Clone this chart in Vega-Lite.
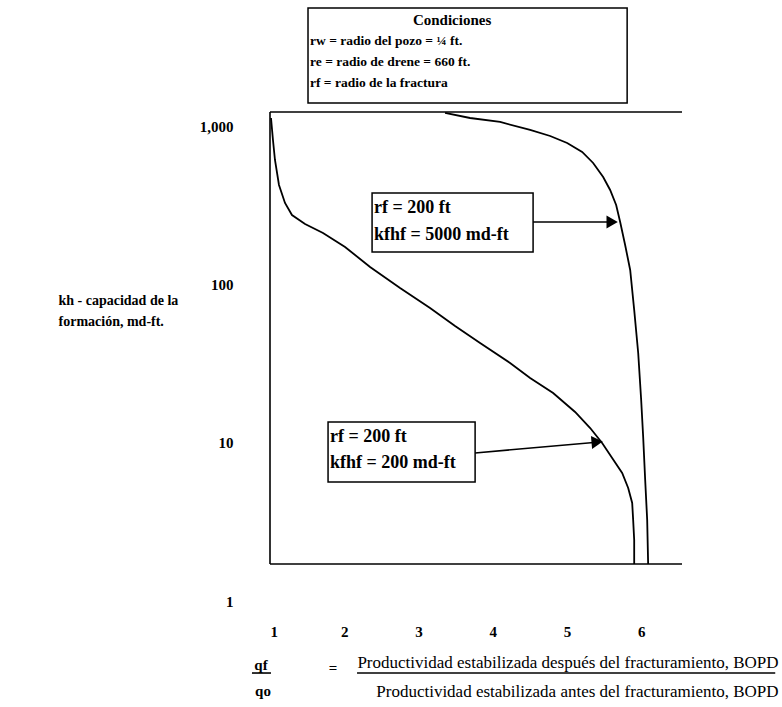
{
  "$schema": "https://vega.github.io/schema/vega-lite/v6.json",
  "autosize": "none",
  "width": 412,
  "height": 489,
  "padding": {"left": 270, "top": 112, "right": 100, "bottom": 106},
  "background": "white",
  "config": {"view": {"stroke": null}, "font": "Liberation Serif"},
  "datasets": {
    "curves": [
      {"serie": "kfhf200", "i": 1, "x": 1.0135, "y": 1140},
      {"serie": "kfhf200", "i": 2, "x": 1.040, "y": 827.6},
      {"serie": "kfhf200", "i": 3, "x": 1.067, "y": 618.2},
      {"serie": "kfhf200", "i": 4, "x": 1.121, "y": 429.6},
      {"serie": "kfhf200", "i": 5, "x": 1.202, "y": 330.4},
      {"serie": "kfhf200", "i": 6, "x": 1.296, "y": 277.3},
      {"serie": "kfhf200", "i": 7, "x": 1.472, "y": 243.3},
      {"serie": "kfhf200", "i": 8, "x": 1.714, "y": 213.4},
      {"serie": "kfhf200", "i": 9, "x": 2.011, "y": 174.0},
      {"serie": "kfhf200", "i": 10, "x": 2.348, "y": 130.0},
      {"serie": "kfhf200", "i": 11, "x": 2.752, "y": 95.7},
      {"serie": "kfhf200", "i": 12, "x": 3.156, "y": 71.5},
      {"serie": "kfhf200", "i": 13, "x": 3.493, "y": 55.0},
      {"serie": "kfhf200", "i": 14, "x": 3.830, "y": 42.96},
      {"serie": "kfhf200", "i": 15, "x": 4.234, "y": 32.1},
      {"serie": "kfhf200", "i": 16, "x": 4.504, "y": 25.8},
      {"serie": "kfhf200", "i": 17, "x": 4.814, "y": 20.7},
      {"serie": "kfhf200", "i": 18, "x": 5.110, "y": 15.71},
      {"serie": "kfhf200", "i": 19, "x": 5.313, "y": 12.44},
      {"serie": "kfhf200", "i": 20, "x": 5.474, "y": 10.0},
      {"serie": "kfhf200", "i": 21, "x": 5.609, "y": 8.04},
      {"serie": "kfhf200", "i": 22, "x": 5.744, "y": 6.46},
      {"serie": "kfhf200", "i": 23, "x": 5.825, "y": 5.19},
      {"serie": "kfhf200", "i": 24, "x": 5.879, "y": 4.17},
      {"serie": "kfhf200", "i": 25, "x": 5.892, "y": 3.26},
      {"serie": "kfhf200", "i": 26, "x": 5.906, "y": 2.43},
      {"serie": "kfhf200", "i": 27, "x": 5.906, "y": 1.715},
      {"serie": "kfhf5000", "i": 1, "x": 3.358, "y": 1227},
      {"serie": "kfhf5000", "i": 2, "x": 3.695, "y": 1140},
      {"serie": "kfhf5000", "i": 3, "x": 4.100, "y": 1075.6},
      {"serie": "kfhf5000", "i": 4, "x": 4.504, "y": 957.3},
      {"serie": "kfhf5000", "i": 5, "x": 4.774, "y": 877.0},
      {"serie": "kfhf5000", "i": 6, "x": 5.003, "y": 792.1},
      {"serie": "kfhf5000", "i": 7, "x": 5.205, "y": 694.7},
      {"serie": "kfhf5000", "i": 8, "x": 5.353, "y": 591.9},
      {"serie": "kfhf5000", "i": 9, "x": 5.488, "y": 482.6},
      {"serie": "kfhf5000", "i": 10, "x": 5.582, "y": 399.3},
      {"serie": "kfhf5000", "i": 11, "x": 5.663, "y": 320.9},
      {"serie": "kfhf5000", "i": 12, "x": 5.717, "y": 250.5},
      {"serie": "kfhf5000", "i": 13, "x": 5.784, "y": 179.2},
      {"serie": "kfhf5000", "i": 14, "x": 5.852, "y": 124.4},
      {"serie": "kfhf5000", "i": 15, "x": 5.906, "y": 69.5},
      {"serie": "kfhf5000", "i": 16, "x": 5.960, "y": 37.1},
      {"serie": "kfhf5000", "i": 17, "x": 6.000, "y": 18.72},
      {"serie": "kfhf5000", "i": 18, "x": 6.027, "y": 10.91},
      {"serie": "kfhf5000", "i": 19, "x": 6.054, "y": 5.83},
      {"serie": "kfhf5000", "i": 20, "x": 6.081, "y": 3.26},
      {"serie": "kfhf5000", "i": 21, "x": 6.094, "y": 1.715}
    ],
    "segments": [
      {"part": "frame top", "x": 1, "x2": 6.55, "y": 1244, "y2": 1244},
      {"part": "frame left", "x": 1, "x2": 1, "y": 1.715, "y2": 1244},
      {"part": "frame bottom", "x": 1, "x2": 6.55, "y": 1.715, "y2": 1.715},
      {"part": "arrow 5000", "x": 4.544, "x2": 5.62, "y": 250.5, "y2": 250.5},
      {"part": "arrow 200", "x": 3.763, "x2": 5.40, "y": 8.65, "y2": 10.1},
      {"part": "qf bar", "x": 0.757, "x2": 1.013, "y": 0.3501, "y2": 0.3501},
      {"part": "fraction bar", "x": 2.1725, "x2": 7.806, "y": 0.3501, "y2": 0.3501}
    ],
    "heads": [
      {"arrow": "5000", "x": 5.609, "y": 250.5, "angle": 0},
      {"arrow": "200", "x": 5.407, "y": 10.15, "angle": -5}
    ],
    "boxes": [
      {"box": "condiciones", "x": 1.512, "x2": 5.811, "y": 5665, "y2": 1418.6},
      {"box": "5000", "x": 2.375, "x2": 4.544, "y": 382.2, "y2": 161.8},
      {"box": "200", "x": 1.782, "x2": 3.763, "y": 13.58, "y2": 5.665}
    ],
    "condText": [
      {"x": 1.539, "y": 3502, "t": "rw = radio del pozo = ¼ ft."},
      {"x": 1.539, "y": 2579, "t": "re = radio de drene = 660 ft."},
      {"x": 1.539, "y": 1899, "t": "rf = radio de la fractura"}
    ],
    "boxText": [
      {"x": 2.402, "y": 307.2, "t": "rf = 200 ft"},
      {"x": 2.402, "y": 207.3, "t": "kfhf = 5000 md-ft"},
      {"x": 1.809, "y": 10.91, "t": "rf = 200 ft"},
      {"x": 1.809, "y": 7.47, "t": "kfhf = 200 md-ft"}
    ],
    "centerText": [
      {"x": 3.453, "y": 4755, "t": "Condiciones"},
      {"x": 0.879, "y": 0.3935, "t": "qf"},
      {"x": 0.906, "y": 0.2694, "t": "qo"},
      {"x": 1.849, "y": 0.3766, "t": "="}
    ]
  },
  "encoding": {
    "x": {
      "field": "x", "type": "quantitative",
      "scale": {"domain": [1, 6.55], "nice": false, "zero": false},
      "axis": {
        "values": [1, 2, 3, 4, 5, 6], "format": "d",
        "domain": false, "ticks": false, "grid": false,
        "labelPadding": 23, "labelFontSize": 15, "labelFontWeight": "bold", "labelColor": "black",
        "title": ["Productividad estabilizada después del fracturamiento, BOPD", "Productividad estabilizada antes del fracturamiento, BOPD"],
        "titleAngle": 0, "titleAlign": "right", "titleBaseline": "top",
        "titleX": 508, "titleY": 53, "titleLineHeight": 29,
        "titleFontSize": 17, "titleFontWeight": "normal", "titleColor": "black"
      }
    },
    "y": {
      "field": "y", "type": "quantitative",
      "scale": {"type": "log", "domain": [1, 1244], "nice": false},
      "axis": {
        "values": [1, 10, 100, 1000], "format": ",.0f",
        "domain": false, "ticks": false, "grid": false,
        "labelPadding": 37, "labelFontSize": 15, "labelFontWeight": "bold", "labelColor": "black",
        "title": ["kh - capacidad de la", "formación, md-ft."],
        "titleAngle": 0, "titleAlign": "left", "titleBaseline": "top",
        "titleX": -212, "titleY": 181, "titleLineHeight": 21,
        "titleFontSize": 14, "titleFontWeight": "bold", "titleColor": "black"
      }
    }
  },
  "layer": [
    {
      "data": {"name": "boxes"},
      "mark": {"type": "rect", "fill": "white", "stroke": "black", "strokeWidth": 1.5},
      "encoding": {"x2": {"field": "x2"}, "y2": {"field": "y2"}}
    },
    {
      "data": {"name": "curves"},
      "mark": {"type": "line", "color": "black", "strokeWidth": 1.8},
      "encoding": {"detail": {"field": "serie"}, "order": {"field": "i", "type": "quantitative"}}
    },
    {
      "data": {"name": "segments"},
      "mark": {"type": "rule", "color": "black", "strokeWidth": 1.6},
      "encoding": {"x2": {"field": "x2"}, "y2": {"field": "y2"}}
    },
    {
      "data": {"name": "heads"},
      "mark": {"type": "point", "shape": "triangle-right", "filled": true, "color": "black", "size": 170, "opacity": 1},
      "encoding": {"angle": {"field": "angle", "type": "quantitative", "scale": null}}
    },
    {
      "data": {"name": "condText"},
      "mark": {"type": "text", "align": "left", "baseline": "middle", "fontSize": 13.5, "fontWeight": "bold", "color": "black"},
      "encoding": {"text": {"field": "t"}}
    },
    {
      "data": {"name": "boxText"},
      "mark": {"type": "text", "align": "left", "baseline": "middle", "fontSize": 18, "fontWeight": "bold", "color": "black"},
      "encoding": {"text": {"field": "t"}}
    },
    {
      "data": {"name": "centerText"},
      "mark": {"type": "text", "align": "center", "baseline": "middle", "fontSize": 15, "fontWeight": "bold", "color": "black"},
      "encoding": {"text": {"field": "t"}}
    }
  ]
}
